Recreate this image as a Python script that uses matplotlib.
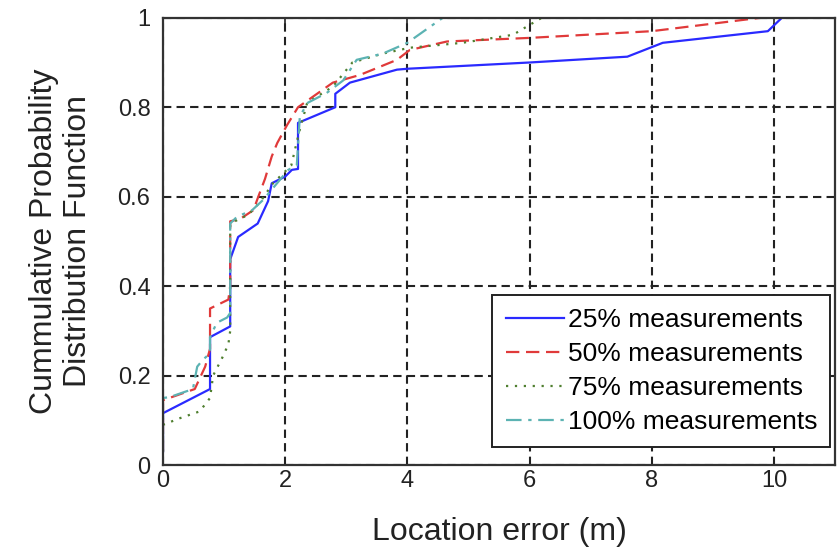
import matplotlib
matplotlib.use('Agg')
import matplotlib.pyplot as plt

# location error (m) vs. empirical CDF, one curve per measurement fraction
err_25 = [0.0, 0.0, 0.77, 0.77, 1.10, 1.10, 1.23, 1.55, 1.72, 1.78, 2.00, 2.11,
          2.21, 2.21, 2.82, 2.82, 3.06, 3.83, 4.00, 6.00, 7.60, 8.18, 9.90, 10.13]
cdf_25 = [0.03, 0.116, 0.17, 0.286, 0.31, 0.46, 0.51, 0.54, 0.59, 0.63, 0.645, 0.66,
          0.662, 0.765, 0.80, 0.83, 0.855, 0.884, 0.886, 0.90, 0.913, 0.944, 0.97, 1.0]

err_50 = [0.0, 0.0, 0.31, 0.52, 0.69, 0.77, 0.77, 1.07, 1.10, 1.10, 1.26, 1.48,
          1.56, 1.67, 1.78, 1.87, 2.03, 2.21, 2.78, 3.22, 3.83, 4.04, 4.65, 6.00,
          8.00, 9.60, 9.80]
cdf_50 = [0.03, 0.145, 0.16, 0.17, 0.22, 0.26, 0.35, 0.37, 0.40, 0.545, 0.55, 0.57,
          0.60, 0.64, 0.69, 0.72, 0.76, 0.80, 0.855, 0.872, 0.906, 0.928, 0.947, 0.955,
          0.97, 0.997, 1.0]

err_75 = [0.0, 0.0, 0.28, 0.60, 0.77, 0.82, 0.97, 1.07, 1.10, 1.10, 1.40, 1.60,
          1.80, 2.10, 2.22, 2.36, 2.78, 3.10, 3.60, 4.04, 4.90, 5.73, 6.00, 6.20]
cdf_75 = [0.03, 0.09, 0.105, 0.12, 0.15, 0.20, 0.24, 0.27, 0.30, 0.54, 0.56, 0.59,
          0.63, 0.67, 0.74, 0.81, 0.846, 0.90, 0.92, 0.933, 0.944, 0.962, 0.984, 1.0]

err_100 = [0.0, 0.0, 0.11, 0.49, 0.56, 0.65, 0.77, 0.77, 0.88, 1.05, 1.10, 1.10,
           1.21, 1.46, 1.64, 2.05, 2.19, 2.24, 2.37, 2.68, 2.95, 3.17, 3.60,
           4.00, 4.58]
cdf_100 = [0.03, 0.15, 0.152, 0.17, 0.22, 0.235, 0.25, 0.286, 0.318, 0.33, 0.34, 0.54,
           0.555, 0.57, 0.593, 0.66, 0.67, 0.78, 0.81, 0.832, 0.86, 0.906, 0.92,
           0.944, 1.0]

labels = ['25% measurements', '50% measurements', '75% measurements', '100% measurements']

plt.rcParams['font.family'] = ['Liberation Sans', 'DejaVu Sans']

fig = plt.figure(figsize=(8.38, 5.55), dpi=100)
ax = fig.add_axes([0.1945, 0.162, 0.802, 0.806])

ax.plot(err_25, cdf_25, color='#2a2aff', linestyle='-', linewidth=1.6, label=labels[0])
ax.plot(err_50, cdf_50, color='#e03a3a', linestyle=(0, (6, 3)), linewidth=1.6, label=labels[1])
ax.plot(err_75, cdf_75, color='#4f7f2f', linestyle=(0, (1, 3)), linewidth=1.6, label=labels[2])
ax.plot(err_100, cdf_100, color='#5cb3b3', linestyle=(0, (7, 3, 1.5, 3)), linewidth=1.6,
        label=labels[3])

ax.set_xlim(0, 11)
ax.set_ylim(0, 1)
ax.set_xticks([0, 2, 4, 6, 8, 10])
ax.set_yticks([0, 0.2, 0.4, 0.6, 0.8, 1])
ax.set_yticklabels(['0', '0.2', '0.4', '0.6', '0.8', '1'])
ax.tick_params(direction='in', top=True, right=True, labelsize=17, length=5,
               width=1.2, colors='#222222')
ax.tick_params(axis='y', pad=9)
ax.grid(True, color='#222222', linestyle=(0, (4, 2.5)), linewidth=1.5)

for s in ax.spines.values():
    s.set_linewidth(1.6)
    s.set_color('#333333')

ax.set_xlabel('Location error (m)', fontsize=23, color='#222222', labelpad=18)
ax.set_ylabel('Cummulative Probability\nDistribution Function', fontsize=23,
              color='#222222', labelpad=18, linespacing=1.15)

leg = ax.legend(loc='lower right', bbox_to_anchor=(0.993, 0.04), fontsize=19,
                fancybox=False, framealpha=1, edgecolor='#222222',
                handlelength=2.2, handletextpad=0.15, borderaxespad=0,
                labelspacing=0.38, borderpad=0.5)
leg.get_frame().set_linewidth(1.4)

fig.savefig('out.png', dpi=100)
